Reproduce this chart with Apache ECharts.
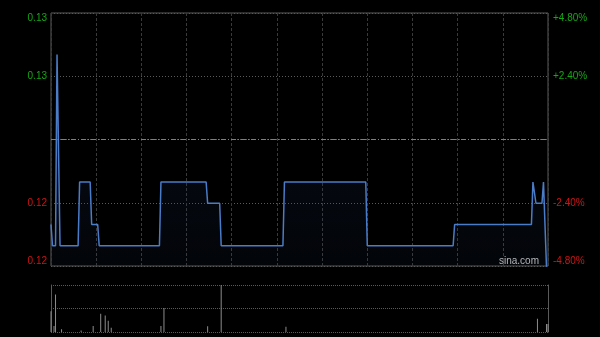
<!DOCTYPE html>
<html>
<head>
<meta charset="utf-8">
<script src="https://cdn.jsdelivr.net/npm/echarts@6/dist/echarts.min.js"></script>
<style>
html,body{margin:0;padding:0;background:#000;}
#c{width:600px;height:337px;}
</style>
</head>
<body>
<div id="c"></div>
<script>
// Previous close and price breakpoints (minutes since open, 330-minute session)
const prevClose = 0.124;
const priceTimes = [0,1,3,4,5,6,18,19,26,27,31,32,72,73,103,104,112,113,154,155,209,210,267,268,319,320,321,322,326,327,329];
const prices = [0.120,0.119,0.119,0.128,0.128,0.119,0.119,0.122,0.122,0.120,0.120,0.119,0.119,0.122,0.122,0.121,0.121,0.119,0.119,0.122,0.122,0.119,0.119,0.120,0.120,0.122,0.122,0.121,0.121,0.122,0.118];
// Volume bars
const volTimes = [0,2,3,7,20,28,33,36,38,40,73,75,104,113,156,323,329,330];
const volumes = [44,13,80,6,3,13,39,35,24,9,13,51,12,100,11,28,17,17];
// Percent tick levels
const pctTicks = [-4.8, -2.4, 0, 2.4, 4.8];

const priceData = priceTimes.map((t, i) => [t, (prices[i] / prevClose - 1) * 100]);
const volData = volTimes.map((t, i) => [t, volumes[i]]);

const green = '#14a814';
const red = '#d01414';
const labelColor = v => (v > 0 ? green : red);

const chart = echarts.init(document.getElementById('c'), null, {renderer: 'canvas'});
chart.setOption({
  backgroundColor: '#000',
  animation: false,
  grid: [
    {left: 51, right: 52, top: 13, bottom: 71, show: true, borderColor: '#5a5a5a', borderWidth: 1, backgroundColor: 'transparent'},
    {left: 51, right: 52, top: 285, height: 47, show: false}
  ],
  xAxis: [
    {type: 'value', gridIndex: 0, min: 0, max: 330, interval: 30,
     axisLine: {show: false}, axisTick: {show: false}, axisLabel: {show: false},
     splitLine: {show: true, lineStyle: {color: '#3a3a3a', type: [3, 2], width: 1}}},
    {type: 'value', gridIndex: 1, min: 0, max: 330, interval: 30,
     axisLine: {show: false}, axisTick: {show: false}, axisLabel: {show: false},
     splitLine: {show: false}}
  ],
  yAxis: [
    {type: 'value', gridIndex: 0, position: 'left', min: pctTicks[0], max: pctTicks[4], interval: 2.4,
     axisLine: {show: false}, axisTick: {show: false},
     axisLabel: {show: true, margin: 4, fontFamily: 'Liberation Sans, Arial', fontSize: 10,
       color: labelColor, verticalAlignMaxLabel: 'top', verticalAlignMinLabel: 'bottom',
       formatter: v => Math.abs(v) < 1e-6 ? '' : (prevClose * (1 + v / 100)).toFixed(2)},
     splitLine: {show: true, lineStyle: {color: '#5a5a5a', type: [1, 2], width: 1}}},
    {type: 'value', gridIndex: 0, position: 'right', min: pctTicks[0], max: pctTicks[4], interval: 2.4,
     axisLine: {show: false}, axisTick: {show: false},
     axisLabel: {show: true, margin: 5, fontFamily: 'Liberation Sans, Arial', fontSize: 10,
       color: labelColor, verticalAlignMaxLabel: 'top', verticalAlignMinLabel: 'bottom',
       formatter: v => Math.abs(v) < 1e-6 ? '' : (v > 0 ? '+' : '') + v.toFixed(2) + '%'},
     splitLine: {show: false}},
    {type: 'value', gridIndex: 1, position: 'left', min: 0, max: 'dataMax', splitNumber: 2,
     axisLine: {show: true, lineStyle: {color: '#5a5a5a'}}, axisTick: {show: false}, axisLabel: {show: false},
     splitLine: {show: true, lineStyle: {color: '#5a5a5a', type: [1, 1], width: 1}}},
    {type: 'value', gridIndex: 1, position: 'right', min: 0, max: 100,
     axisLine: {show: true, lineStyle: {color: '#5a5a5a'}}, axisTick: {show: false}, axisLabel: {show: false},
     splitLine: {show: false}}
  ],
  series: [
    {type: 'line', xAxisIndex: 0, yAxisIndex: 0, data: priceData, symbol: 'none',
     lineStyle: {color: '#4a7cc8', width: 1.5},
     areaStyle: {origin: 'start', color: new echarts.graphic.LinearGradient(0, 0, 0, 1, [
       {offset: 0, color: 'rgba(30,55,100,0.35)'}, {offset: 1, color: 'rgba(30,55,100,0.12)'}])},
     markLine: {silent: true, symbol: ['none', 'none'], label: {show: false},
       lineStyle: {color: '#808080', type: [5, 2, 1, 2], width: 1},
       data: [{yAxis: 0}]}},
    {type: 'bar', xAxisIndex: 1, yAxisIndex: 2, data: volData, barWidth: 1,
     itemStyle: {color: '#8c8c8c'}}
  ],
  graphic: [
    {type: 'text', left: 499, top: 256, style: {text: 'sina.com', fill: '#c0c0c0', fontSize: 10, fontFamily: 'Liberation Sans, Arial'}}
  ]
});
</script>
</body>
</html>
